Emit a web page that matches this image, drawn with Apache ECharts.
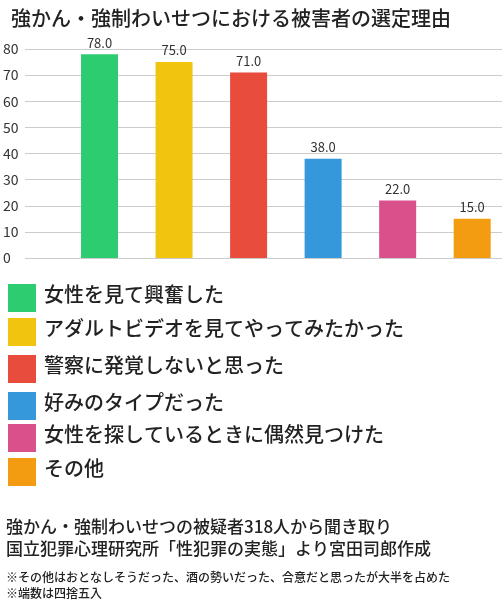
<!DOCTYPE html>
<html><head><meta charset="utf-8">
<script src="https://cdn.jsdelivr.net/npm/echarts@6/dist/echarts.min.js"></script>
<style>
body{margin:0;background:#fff;font-family:"Noto Sans CJK JP",sans-serif;}
#c{width:504px;height:609px;}
</style></head><body><div id="c"></div>
<script>
const categories=['女性を見て興奮した','アダルトビデオを見てやってみたかった','警察に発覚しないと思った','好みのタイプだった','女性を探しているときに偶然見つけた','その他'];
const values=[78,75,71,38,22,15];
const colors=['#2ecc71','#f1c40f','#e74c3c','#3498db','#d9508a','#f39c12'];
const title='強かん・強制わいせつにおける被害者の選定理由';
const notes=['強かん・強制わいせつの被疑者318人から聞き取り','国立犯罪心理研究所「性犯罪の実態」より宮田司郎作成'];
const small=['※その他はおとなしそうだった、酒の勢いだった、合意だと思ったが大半を占めた','※端数は四捨五入'];
const F='"Noto Sans CJK JP",sans-serif';
const chart=echarts.init(document.getElementById('c'));
const graphics=[];
const legY=[298,332,369,406,438,472];
categories.forEach((c,i)=>{
 graphics.push({type:'rect',left:8,top:legY[i]-14,shape:{width:28,height:28},style:{fill:colors[i]}});
 graphics.push({type:'text',left:44,top:legY[i]-14,style:{text:c,font:'500 20px '+F,fill:'#222'}});
});
notes.forEach((t,i)=>graphics.push({type:'text',left:6,top:518+i*22,style:{text:t,font:'500 17px '+F,fill:'#222'}}));
small.forEach((t,i)=>graphics.push({type:'text',left:6,top:571+i*16,style:{text:t,font:'500 12px '+F,fill:'#222'}}));
chart.setOption({
 animation:false,
 title:{text:title,left:6,top:3,textStyle:{fontFamily:F,fontSize:20,fontWeight:500,color:'#222'}},
 grid:{left:25,right:2,top:49,bottom:351},
 xAxis:{type:'value',min:0,max:6.4,show:false,splitLine:{show:false}},
 yAxis:{type:'value',min:0,max:80,interval:10,axisLine:{show:false},axisTick:{show:false},
  axisLabel:{margin:22,align:'left',fontFamily:F,fontSize:14,color:'#333'},splitLine:{lineStyle:{color:'#ccc'}}},
 series:[{type:'bar',barWidth:37,
  data:values.map((v,i)=>({value:[i+1,v],itemStyle:{color:colors[i]}})),
  label:{show:true,position:'top',formatter:p=>p.value[1].toFixed(1),fontFamily:F,fontSize:13,color:'#333'}}],
 graphic:graphics
});
</script></body></html>
